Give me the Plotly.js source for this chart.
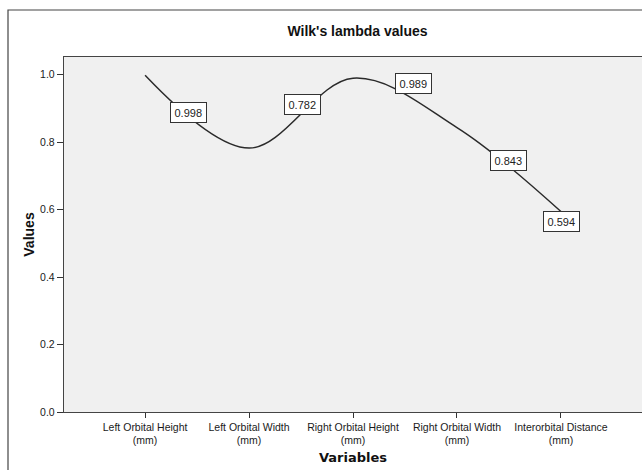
<!DOCTYPE html>
<html>
<head>
<meta charset="utf-8">
<script src="https://cdn.plot.ly/plotly-3.0.1.min.js"></script>
<style>
  html, body { margin: 0; padding: 0; background: #ffffff; }
  #chart { width: 642px; height: 470px; }
</style>
</head>
<body>
<div id="chart"></div>
<script>
// ---- data ----
var categories = [
  "Left Orbital Height<br>(mm)",
  "Left Orbital Width<br>(mm)",
  "Right Orbital Height<br>(mm)",
  "Right Orbital Width<br>(mm)",
  "Interorbital Distance<br>(mm)"
];
var values = [0.998, 0.782, 0.989, 0.843, 0.594];
var valueLabels = ["0.998", "0.782", "0.989", "0.843", "0.594"];
var yTickValues = [0.0, 0.2, 0.4, 0.6, 0.8, 1.0];
var yTickLabels = ["0.0", "0.2", "0.4", "0.6", "0.8", "1.0"];

// ---- label placement (pixel offsets, styling only) ----
var labelShift = [[43, -37], [53, 44], [60, -5], [52, -33], [1, -10]];

var xIdx = categories.map(function (c, i) { return i; });

var trace = {
  x: xIdx,
  y: values,
  type: 'scatter',
  mode: 'lines',
  line: { color: '#2a2a2a', width: 1.5, shape: 'spline', smoothing: 1 },
  hoverinfo: 'skip',
  showlegend: false
};

var annotations = values.map(function (v, i) {
  return {
    x: i, y: v, xref: 'x', yref: 'y',
    text: valueLabels[i],
    showarrow: false,
    xanchor: 'center', yanchor: 'middle',
    xshift: labelShift[i][0], yshift: labelShift[i][1],
    bgcolor: '#ffffff',
    bordercolor: '#333333', borderwidth: 1, borderpad: 3.5,
    font: { family: 'Liberation Sans, Arial, sans-serif', size: 11, color: '#222222' }
  };
});

// outer frame (paper coords relative to plot area)
var L = 64, R = 642, T = 57, B = 412;
function px(xp) { return (xp - L) / (R - L); }
function py(yp) { return (B - yp) / (B - T); }

var layout = {
  width: 642, height: 470,
  margin: { l: L, r: 642 - R, t: T, b: 470 - B, pad: 0 },
  paper_bgcolor: '#ffffff',
  plot_bgcolor: '#f0f0f0',
  title: {
    text: "Wilk's lambda values",
    x: 326 / 642, xanchor: 'center', xref: 'paper',
    y: 1 - 31 / 470, yanchor: 'middle', yref: 'container',
    font: { family: 'Liberation Sans, Arial, sans-serif', size: 14, color: '#111111', weight: 'bold' }
  },
  xaxis: {
    range: [-0.78, 4.78],
    tickmode: 'array',
    tickvals: xIdx,
    ticktext: categories,
    ticks: 'outside', ticklen: 5, tickwidth: 1, tickcolor: '#333333',
    showgrid: false, zeroline: false,
    showline: true, linecolor: '#444444', linewidth: 1.2, mirror: true,
    tickfont: { family: 'Liberation Sans, Arial, sans-serif', size: 10.5, color: '#1a1a1a' },
    title: {
      text: 'Variables',
      font: { family: 'DejaVu Sans, sans-serif', size: 13, color: '#111111', weight: 'bold' },
      standoff: 7
    },
    fixedrange: true
  },
  yaxis: {
    range: [0, 1.052],
    tickmode: 'array',
    tickvals: yTickValues,
    ticktext: yTickLabels,
    ticks: 'outside', ticklen: 6, tickwidth: 1, tickcolor: '#333333',
    showgrid: false, zeroline: false,
    showline: true, linecolor: '#444444', linewidth: 1.2, mirror: false,
    tickfont: { family: 'Liberation Sans, Arial, sans-serif', size: 10.5, color: '#1a1a1a' },
    title: {
      text: 'Values',
      font: { family: 'Liberation Sans, Arial, sans-serif', size: 14, color: '#111111', weight: 'bold' },
      standoff: 2
    },
    fixedrange: true
  },
  shapes: [{
    type: 'rect', xref: 'paper', yref: 'paper',
    x0: px(8), x1: px(660), y0: py(490), y1: py(10),
    line: { color: '#444444', width: 1.2 },
    fillcolor: 'rgba(0,0,0,0)',
    layer: 'below'
  }],
  annotations: annotations,
  showlegend: false
};

Plotly.newPlot('chart', [trace], layout, { displayModeBar: false, staticPlot: true });
</script>
</body>
</html>
